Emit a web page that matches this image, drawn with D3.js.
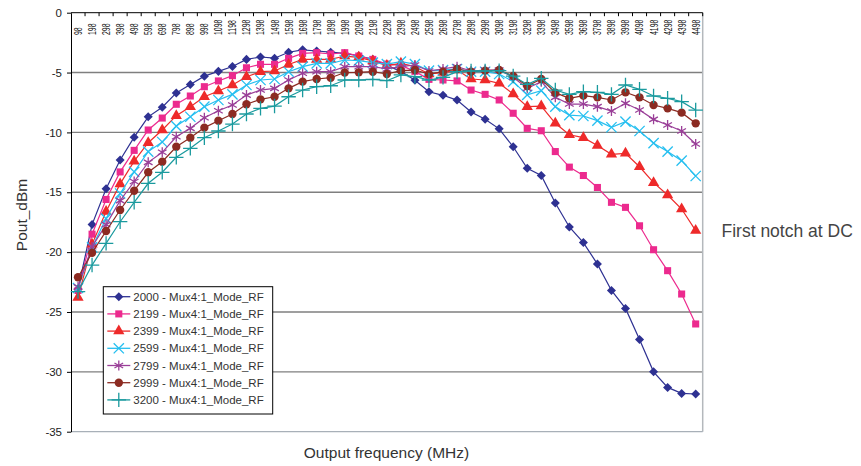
<!DOCTYPE html>
<html>
<head>
<meta charset="utf-8">
<script src="https://cdn.jsdelivr.net/npm/d3@7"></script>
<style>
body { margin: 0; background: #fff; }
text { font-family: "Liberation Sans", Arial, sans-serif; }
</style>
</head>
<body>
<div id="chart"></div>
<script>
// data
var freqs = ["98","198","298","398","498","598","698","798","898","998","1098","1198","1298","1398","1498",
	"1598","1698","1798","1898","1998","2098","2198","2298","2398","2498","2598","2698","2798","2898","2998",
	"3098","3198","3298","3398","3498","3598","3698","3798","3898","3998","4098","4198","4298","4398","4498"];
var yTicks = [0, -5, -10, -15, -20, -25, -30, -35];
var names = ["2000 - Mux4:1_Mode_RF","2199 - Mux4:1_Mode_RF","2399 - Mux4:1_Mode_RF","2599 - Mux4:1_Mode_RF",
	"2799 - Mux4:1_Mode_RF","2999 - Mux4:1_Mode_RF","3200 - Mux4:1_Mode_RF"];

var s2000 = [-23.1,-17.7,-14.7,-12.3,-10.4,-8.7,-7.9,-6.7,-6.0,-5.3,-4.9,-4.5,-3.9,-3.7,-3.8,-3.3,-3.1,-3.2,-3.3,-3.4,
	-3.6,-3.9,-4.4,-4.9,-5.65,-6.6,-6.9,-7.3,-8.3,-8.9,-9.7,-11.2,-13.0,-13.6,-15.9,-17.9,-19.2,-21.0,-23.2,-24.7,
	-27.3,-30.0,-31.3,-31.8,-31.85];
var s2199 = [-23.2,-18.5,-15.6,-13.3,-11.5,-9.8,-8.8,-7.65,-6.96,-6.18,-5.7,-5.26,-4.6,-4.31,-4.31,-3.81,-3.4,-3.34,-3.45,-3.34,
	-3.62,-3.9,-4.29,-4.4,-4.9,-5.57,-5.62,-5.7,-6.46,-6.82,-7.29,-8.4,-9.66,-9.86,-11.6,-12.9,-13.6,-14.6,-15.84,-16.26,
	-17.8,-19.8,-21.55,-23.5,-26.0];
var s2399 = [-23.8,-19.35,-16.6,-14.3,-12.4,-10.86,-9.8,-8.6,-7.85,-7.02,-6.54,-6.04,-5.35,-4.93,-4.87,-4.33,-3.9,-3.9,-3.9,-3.62,
	-3.73,-4.03,-4.42,-4.23,-4.51,-5.12,-5.0,-4.79,-5.54,-5.62,-5.9,-6.79,-7.85,-7.8,-9.24,-10.2,-10.44,-11.1,-11.83,-11.75,
	-12.87,-14.2,-15.23,-16.4,-18.2];
var s2599 = [-23.0,-19.6,-17.2,-15.1,-13.3,-11.6,-10.8,-9.47,-8.69,-7.85,-7.29,-6.82,-6.04,-5.62,-5.54,-4.93,-4.51,-4.23,-4.23,-3.95,
	-4.0,-4.17,-4.29,-4.09,-4.29,-4.84,-4.79,-4.7,-4.93,-4.93,-5.12,-5.76,-6.87,-6.51,-7.85,-8.55,-8.63,-9.02,-9.57,-9.1,
	-9.88,-10.9,-11.6,-12.36,-13.64];
var s2799 = [-22.9,-19.55,-17.7,-15.7,-14.1,-12.5,-11.66,-10.36,-9.66,-8.77,-8.19,-7.71,-6.88,-6.46,-6.32,-5.62,-5.06,-4.93,-4.93,-4.51,
	-4.51,-4.51,-4.7,-4.51,-4.37,-4.87,-4.7,-4.51,-4.87,-4.79,-4.79,-5.4,-6.32,-5.76,-7.07,-7.63,-7.63,-7.85,-8.21,-7.57,
	-8.13,-8.91,-9.38,-9.88,-10.97];
var s2999 = [-22.1,-20.05,-18.24,-16.48,-14.87,-13.33,-12.45,-11.2,-10.44,-9.6,-9.02,-8.46,-7.65,-7.24,-7.02,-6.32,-5.76,-5.54,-5.43,-5.0,
	-4.98,-4.93,-5.12,-4.84,-4.79,-5.12,-4.93,-4.7,-4.93,-4.84,-4.79,-5.29,-6.12,-5.54,-6.68,-7.15,-6.93,-7.07,-7.29,-6.65,
	-7.07,-7.71,-7.99,-8.35,-9.24];
var s3200 = [-23.3,-21.08,-19.27,-17.46,-15.84,-14.25,-13.33,-12.08,-11.33,-10.44,-9.88,-9.3,-8.46,-7.99,-7.8,-7.02,-6.46,-6.18,-6.1,-5.62,
	-5.62,-5.57,-5.68,-5.2,-5.34,-5.62,-5.4,-4.93,-4.87,-4.87,-4.84,-5.29,-5.99,-5.48,-6.46,-6.82,-6.6,-6.65,-6.82,-6.04,
	-6.4,-6.96,-7.15,-7.43,-8.13];

var series = [s2000, s2199, s2399, s2599, s2799, s2999, s3200];
var colors = ["#2e3192", "#ec2a8e", "#ee2a2a", "#25bff0", "#9a3f98", "#8c2b22", "#1a9a9e"];
var shapes = [
	{type: d3.symbolDiamond2, size: 52, fill: true},
	{type: d3.symbolSquare, size: 50, fill: true},
	{type: d3.symbolTriangle, size: 55, fill: true},
	{type: d3.symbolTimes, size: 70, fill: false},
	{type: d3.symbolAsterisk, size: 70, fill: false},
	{type: d3.symbolCircle, size: 55, fill: true},
	{type: d3.symbolPlus, size: 70, fill: false}
];

var W = 861, H = 466;
var pLeft = 71, pTop = 12.7, pRight = 702.7, pBottom = 431.7;

var svg = d3.select("#chart").append("svg")
	.attr("width", W)
	.attr("height", H);

var x = d3.scaleBand().domain(freqs).range([pLeft, pRight]);
var y = d3.scaleLinear().domain([-35, 0]).range([pBottom, pTop]);

// gridlines
svg.selectAll(".grid")
	.data(yTicks.filter(d => d < 0 && d > -35))
	.enter()
	.append("line")
	.attr("x1", pLeft).attr("x2", pRight)
	.attr("y1", d => y(d)).attr("y2", d => y(d))
	.attr("stroke", "#7f7f7f")
	.attr("stroke-width", 1.4);

// right and bottom border
svg.append("line")
	.attr("x1", pRight).attr("x2", pRight).attr("y1", pTop).attr("y2", pBottom)
	.attr("stroke", "#b4b8bc").attr("stroke-width", 1.5);
svg.append("line")
	.attr("x1", pLeft).attr("x2", pRight).attr("y1", pBottom).attr("y2", pBottom)
	.attr("stroke", "#a8b0b8").attr("stroke-width", 1.3);

// left axis
var yAxis = svg.append("g")
	.attr("transform", "translate(" + pLeft + ",0)")
	.call(d3.axisLeft(y).tickValues(yTicks).tickFormat(d => String(d)).tickSize(4).tickPadding(5).tickSizeOuter(0));
yAxis.select(".domain").attr("stroke", "#000");
yAxis.selectAll("text").style("font-size", "11.5px").attr("fill", "#222");

// top axis, ticks at category boundaries
svg.append("line")
	.attr("x1", pLeft).attr("x2", pRight).attr("y1", pTop).attr("y2", pTop)
	.attr("stroke", "#000");
svg.selectAll(".xtick")
	.data(freqs)
	.enter()
	.append("line")
	.attr("x1", d => x(d) + x.bandwidth()).attr("x2", d => x(d) + x.bandwidth())
	.attr("y1", pTop).attr("y2", pTop + 3.5)
	.attr("stroke", "#000");
svg.selectAll(".xlab")
	.data(freqs)
	.enter()
	.append("text")
	.attr("transform", d => "translate(" + (x(d) + x.bandwidth() / 2) + ",35) rotate(-90) scale(0.63,1)")
	.attr("dy", "0.36em")
	.attr("text-anchor", "start")
	.style("font-size", "11px")
	.attr("fill", "#111")
	.text(d => d);

// lines and markers
var line = d3.line()
	.x((d, i) => x(freqs[i]) + x.bandwidth() / 2)
	.y(d => y(d));

series.forEach(function(s, k) {
	svg.append("path")
		.datum(s)
		.attr("d", line)
		.attr("fill", "none")
		.attr("stroke", colors[k])
		.attr("stroke-width", 1.2);
	var sym = d3.symbol().type(shapes[k].type).size(shapes[k].size);
	svg.selectAll(".m" + k)
		.data(s)
		.enter()
		.append("path")
		.attr("transform", (d, i) => "translate(" + (x(freqs[i]) + x.bandwidth() / 2) + "," + y(d) + ")")
		.attr("d", sym)
		.attr("fill", shapes[k].fill ? colors[k] : "none")
		.attr("stroke", shapes[k].fill ? "none" : colors[k])
		.attr("stroke-width", 1.3);
});

// legend
var lg = svg.append("g").attr("transform", "translate(103.3,286.7)");
lg.append("rect")
	.attr("width", 169.4).attr("height", 127.3)
	.attr("fill", "#fff").attr("stroke", "#000").attr("stroke-width", 1);
names.forEach(function(n, k) {
	var cy = 10 + k * 17.2;
	lg.append("line")
		.attr("x1", 4).attr("x2", 27).attr("y1", cy).attr("y2", cy)
		.attr("stroke", colors[k]).attr("stroke-width", 1.3);
	lg.append("path")
		.attr("transform", "translate(15.5," + cy + ")")
		.attr("d", d3.symbol().type(shapes[k].type).size(shapes[k].size))
		.attr("fill", shapes[k].fill ? colors[k] : "none")
		.attr("stroke", shapes[k].fill ? "none" : colors[k])
		.attr("stroke-width", 1.3);
	lg.append("text")
		.attr("x", 30).attr("y", cy).attr("dy", "0.36em")
		.style("font-size", "11.5px")
		.attr("fill", "#333")
		.text(n);
});

// titles
svg.append("text")
	.attr("transform", "translate(27,215) rotate(-90)")
	.attr("text-anchor", "middle")
	.style("font-size", "15.5px")
	.attr("fill", "#333")
	.text("Pout_dBm");
svg.append("text")
	.attr("x", 386.5).attr("y", 458)
	.attr("text-anchor", "middle")
	.style("font-size", "15.5px")
	.attr("fill", "#333")
	.text("Output frequency (MHz)");
svg.append("text")
	.attr("x", 721.5).attr("y", 237)
	.style("font-size", "17.5px")
	.attr("fill", "#444")
	.text("First notch at DC");
</script>
</body>
</html>
